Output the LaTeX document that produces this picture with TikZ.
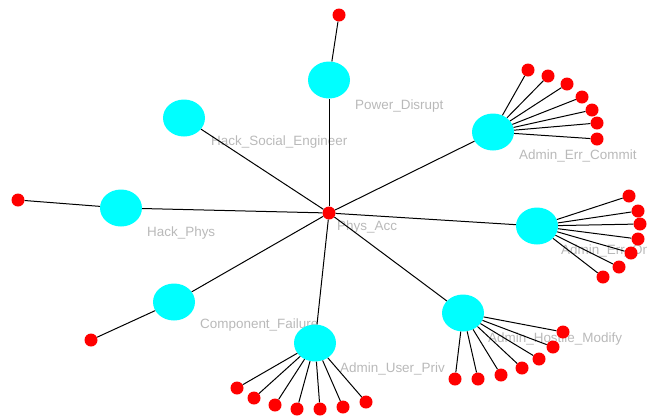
\documentclass[tikz,border=0pt]{standalone}
\usepackage{fontspec}
\setmainfont{Liberation Sans}
\usetikzlibrary{shapes.geometric}
\definecolor{hubcyan}{RGB}{0,255,255}
\definecolor{leafred}{RGB}{255,0,0}
\definecolor{taggray}{RGB}{185,185,185}
\tikzset{
  hub/.style={ellipse, fill=hubcyan, minimum width=42bp, minimum height=37bp, inner sep=0pt},
  leaf/.style={circle, fill=leafred, minimum size=13bp, inner sep=0pt},
  tag/.style={anchor=west, inner sep=0pt, text=taggray, font=\fontsize{13.5}{15}\selectfont},
  link/.style={draw=black, line width=1bp},
}
\begin{document}
\begin{tikzpicture}[x=1bp, y=-1bp]
\useasboundingbox (0,0) rectangle (647,417);
% === 标签 ===
\node[tag] (tPA) at (337,227) {Phys\_Acc};
\node[tag] (tPD) at (355,106) {Power\_Disrupt};
\node[tag] (tHS) at (211,142) {Hack\_Social\_Engineer};
\node[tag] (tEC) at (519,156) {Admin\_Err\_Commit};
\node[tag] (tEO) at (561,251) {Admin\_Err\_Omit};
\node[tag] (tHM) at (488,339) {Admin\_Hostile\_Modify};
\node[tag] (tUP) at (340,369) {Admin\_User\_Priv};
\node[tag] (tCF) at (200,325) {Component\_Failure};
\node[tag] (tHP) at (147,233) {Hack\_Phys};

% === 中心与分支节点 ===
\node[leaf] (pa) at (329,213) {};
\node[hub] (pd) at (329,80) {};
\node[hub] (hs) at (184,118) {};
\node[hub] (ec) at (493,132) {};
\node[hub] (eo) at (537,226) {};
\node[hub] (hm) at (463,313) {};
\node[hub] (up) at (315,343) {};
\node[hub] (cf) at (174,302) {};
\node[hub] (hp) at (121,208) {};
\foreach \h in {pd,hs,ec,eo,hm,up,cf,hp}
  \draw[link] (pa) -- (\h);

% 单个叶子
\node[leaf] (pd1) at (339,15) {};
\node[leaf] (hp1) at (18,200) {};
\node[leaf] (cf1) at (91,340) {};
\draw[link] (pd) -- (pd1);
\draw[link] (hp) -- (hp1);
\draw[link] (cf) -- (cf1);

% === 扇形叶子 ===
\foreach \p [count=\i] in {(528,70),(548,76),(567,84),(582,97),(592,110),(597,123),(597,139)} {
  \node[leaf] (ec\i) at \p {};
  \draw[link] (ec) -- (ec\i);
}
\foreach \p [count=\i] in {(629,196),(638,211),(640,224),(638,239),(631,253),(619,267),(603,277)} {
  \node[leaf] (eo\i) at \p {};
  \draw[link] (eo) -- (eo\i);
}
\foreach \p [count=\i] in {(563,332),(553,347),(539,359),(522,368),(501,375),(478,379),(455,379)} {
  \node[leaf] (hm\i) at \p {};
  \draw[link] (hm) -- (hm\i);
}
\foreach \p [count=\i] in {(237,388),(254,398),(275,405),(297,409),(320,409),(343,407),(366,402)} {
  \node[leaf] (up\i) at \p {};
  \draw[link] (up) -- (up\i);
}
\end{tikzpicture}
\end{document}
